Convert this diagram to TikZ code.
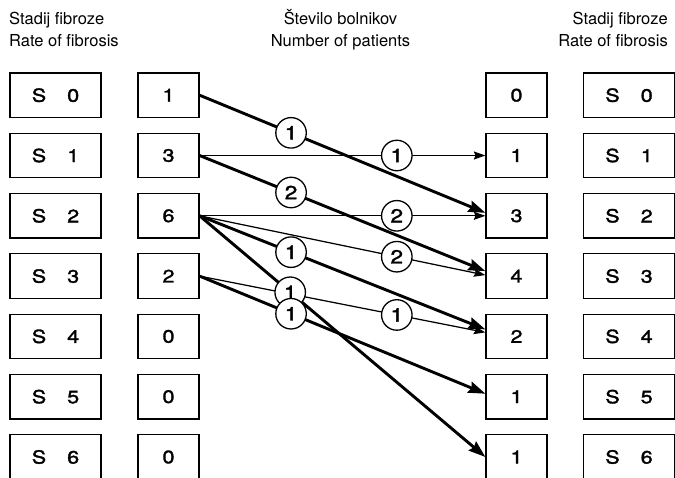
\documentclass[tikz,border=0pt]{standalone}
\usepackage{fontspec}
\setmainfont{TeX Gyre Heros}
\newfontfamily\medfont[FakeBold=1.8,FakeStretch=1.2]{TeX Gyre Heros}
\usetikzlibrary{arrows.meta}
\tikzset{
  boxbase/.style={draw, line width=1.2pt, minimum height=44.5pt, inner sep=0pt,
    font=\medfont\fontsize{18}{20}\selectfont},
  sbox/.style={boxbase, minimum width=91pt},
  cbox/.style={boxbase, minimum width=61pt},
  hdr/.style={inner sep=0pt, font=\fontsize{16.5}{20}\selectfont},
  thickarr/.style={line width=2.9pt, -{Stealth[length=17pt,width=11.5pt,inset=2pt]}},
  thinarr/.style={line width=1.25pt, -{Stealth[length=11.5pt,width=8pt,inset=1.5pt]}},
  lab/.style={circle, draw, fill=white, line width=1.3pt, minimum size=30.5pt,
    inner sep=0pt, font=\medfont\fontsize{19}{20}\selectfont}
}
\newcommand{\stlabel}[1]{S\hspace{21pt}#1}
\begin{document}
\begin{tikzpicture}[x=1pt,y=-1pt]
\useasboundingbox (0,0) rectangle (675,477);
\clip (0,0) rectangle (675,477);
% headers
\node[hdr, anchor=base west] (hl1) at (9,24) {Stadij fibroze};
\node[hdr, anchor=base west] (hl2) at (9,46.5) {Rate of fibrosis};
\node[hdr, anchor=base] (hc1) at (340.5,24) {Število bolnikov};
\node[hdr, anchor=base] (hc2) at (340.5,46.5) {Number of patients};
\node[hdr, anchor=base east] (hr1) at (668,24) {Stadij fibroze};
\node[hdr, anchor=base east] (hr2) at (668,46.5) {Rate of fibrosis};
% boxes
\foreach \i/\a/\b in {0/1/0, 1/3/1, 2/6/3, 3/2/4, 4/0/2, 5/0/1, 6/0/1} {
  \pgfmathsetmacro{\yy}{95.2+60.3*\i}
  \node[sbox] (L\i) at (55.5,\yy) {\stlabel{\i}};
  \node[cbox] (C\i) at (168.5,\yy) {\a};
  \node[cbox] (R\i) at (516.5,\yy) {\b};
  \node[sbox] (S\i) at (629,\yy) {\stlabel{\i}};
}
% connectors
\draw[thickarr] (C0.east) -- ([yshift=3pt]R2.west) coordinate[pos=0.32] (m1);
\draw[thinarr]  (C1.east) -- (R1.west) coordinate[pos=0.69] (m2);
\draw[thickarr] (C1.east) -- ([yshift=5pt]R3.west) coordinate[pos=0.32] (m3);
\draw[thinarr]  (C2.east) -- (R2.west) coordinate[pos=0.69] (m4);
\draw[thinarr]  (C2.east) -- ([yshift=1pt]R3.west) coordinate[pos=0.69] (m5);
\draw[thickarr] (C2.east) -- ([yshift=7pt]R4.west) coordinate[pos=0.32] (m6);
\draw[thickarr] (C2.east) -- (R6.west) coordinate[pos=0.317] (m7);
\draw[thinarr]  (C3.east) -- ([yshift=4pt]R4.west) coordinate[pos=0.69] (m8);
\draw[thickarr] (C3.east) -- ([yshift=3pt]R5.west) coordinate[pos=0.32] (m9);
% labels
\node[lab] (n1) at (m1) {1};
\node[lab] (n2) at (m2) {1};
\node[lab] (n3) at (m3) {2};
\node[lab] (n4) at (m4) {2};
\node[lab] (n5) at (m5) {2};
\node[lab] (n6) at (m6) {1};
\node[lab] (n7) at (m7) {1};
\node[lab] (n8) at (m8) {1};
\node[lab] (n9) at (m9) {1};
\end{tikzpicture}
\end{document}
